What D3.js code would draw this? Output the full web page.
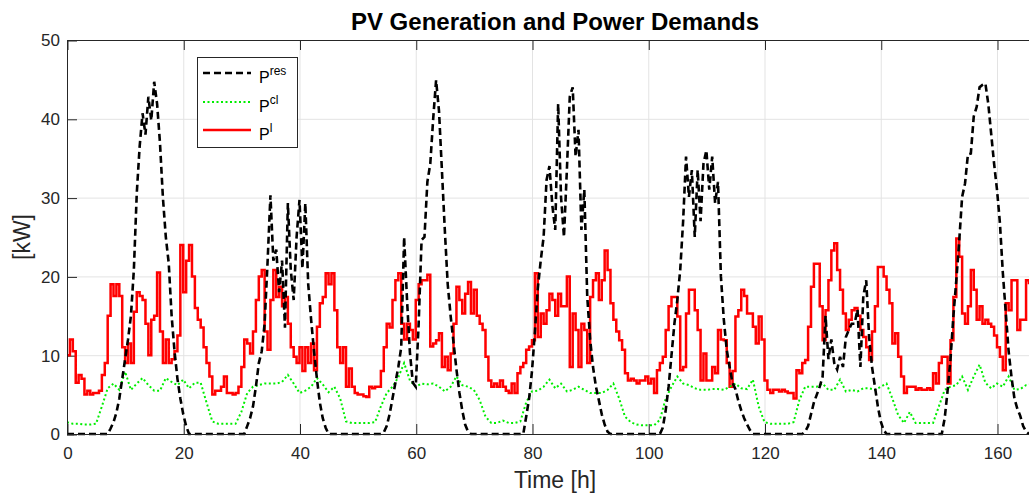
<!DOCTYPE html>
<html>
<head>
<meta charset="utf-8">
<script src="https://cdn.jsdelivr.net/npm/d3@7"></script>
<style>
body { margin: 0; background: #fff; }
svg { font-family: "Liberation Sans", Arial, Helvetica, sans-serif; }
.axis text { font-size: 17px; fill: #262626; }
.axis path { display: none; }
.axis line { stroke: #262626; }
.grid line { stroke: #e3e3e3; stroke-width: 1; }
</style>
</head>
<body>
<svg id="chart" width="1029" height="495"></svg>
<script>
// half-hour samples, starting at t = 0 h
const pLoad = [
    10, 12, 10.5, 6.5, 7.5, 7, 5, 5.5, 5, 5.2, 5.2, 5.5, 7.5, 9, 15, 19, 17.5, 19, 17.5, 11,
    9, 11.5, 9, 15.5, 18, 17.5, 17, 14, 10, 14.5, 15, 20.5, 13, 9, 12, 9, 9.5, 10.5, 12.5, 24,
    18, 22, 24, 20, 16, 14.5, 13.5, 11, 9, 7.3, 5, 5.5, 5.5, 6, 7.3, 5.2, 5.2, 5, 5.2, 6,
    8.5, 12, 11.5, 10.2, 13, 17, 20, 20.8, 13, 10.7, 17, 20.8, 17.4, 18.7, 16.2, 17.4, 14, 11, 9.8, 9,
    11, 8, 11, 9, 11.5, 8.1, 13.6, 16.6, 17.4, 20.4, 19, 20.4, 15.7, 11, 9, 11, 6, 8.3, 6, 5.2,
    5, 5, 4.8, 4.7, 6, 5.8, 6, 6, 8, 11, 14, 13.5, 17, 19.5, 20.4, 14, 12, 14, 13.2, 12,
    17, 19, 19.5, 19.5, 20.2, 11.1, 11.5, 11.9, 12.8, 8.5, 9.8, 8.1, 10.2, 14, 18.7, 17, 15.3, 17.8, 19.3, 15.3,
    18.3, 15, 14, 13.2, 9.8, 6.8, 6, 6.4, 6, 6.8, 6, 5.5, 5.2, 6.4, 5.2, 7.7, 8.5, 9, 10.7, 11.1,
    11.9, 20.4, 12.3, 15.3, 14, 15.7, 17.8, 17, 15, 17.8, 16.2, 16.2, 20, 8.5, 15.3, 13.2, 8.5, 14, 13.2, 9,
    17.4, 19.5, 20.4, 17, 19.5, 23.3, 20.8, 16.6, 14.5, 13, 11.9, 10.7, 7.7, 6.8, 7, 6.8, 6.4, 6.8, 6.8, 7.3,
    6.4, 7, 5.2, 8.1, 9, 9.8, 13.2, 16.2, 17.4, 17.4, 14.9, 8.1, 8.5, 15.3, 18.3, 18.3, 15.7, 13.2, 6.8, 10.2,
    6.8, 6.8, 8.5, 7.7, 13.2, 12, 11.9, 9, 6, 8, 14.9, 15.7, 18.3, 17.5, 15.3, 15.3, 13.6, 11.5, 14.9, 12,
    6.8, 5.6, 5.2, 5.6, 5.6, 5.4, 5.6, 5.4, 5.2, 5.2, 4.5, 8.1, 7.7, 9, 9.4, 13.6, 18.7, 21.6, 21.6, 16.2,
    11.9, 15.7, 19.5, 23.3, 24.2, 20.8, 18.3, 15.3, 13.2, 14.5, 15.7, 16, 15, 13.2, 12.3, 11, 9.4, 13, 16.2, 21.2,
    21.2, 20, 18.3, 16.6, 11.5, 12.8, 9.8, 7.3, 5.2, 6, 6, 6, 5.6, 5.8, 5.6, 5.6, 5.8, 5.6, 7.7, 6.4,
    9, 9.8, 9.8, 6.4, 11.9, 17.4, 24.8, 22.5, 15.3, 14, 16.2, 20.8, 18.3, 14.5, 16.2, 14, 14.5, 14, 13.6, 12.5,
    11, 9.8, 8.1, 16.6, 15.7, 19.5, 19.5, 13.2, 14.5, 14.5, 19.5, 19
];

// half-hour samples, starting at t = 0 h
const pRes = [
    0, 0, 0, 0, 0, 0, 0, 0, 0, 0, 0, 0, 0, 0, 0, 0.7, 1.5, 2.7, 4.5, 7,
    9.5, 12, 15, 20.8, 30.5, 36.5, 40.7, 38, 42.8, 39.8, 44.7, 41.9, 36.9, 30, 25, 21.7, 15, 10.5, 7, 4.5,
    2.5, 1, 0, 0, 0, 0, 0, 0, 0, 0, 0, 0, 0, 0, 0, 0, 0, 0, 0, 0,
    0, 0, 1, 2, 3.5, 6, 9, 10.5, 14, 21.7, 30.3, 22, 23.4, 18, 22, 13.5, 29.3, 20.8, 17, 25,
    29.7, 21, 29.3, 19, 14.5, 10.5, 7, 4, 2, 0.8, 0, 0, 0, 0, 0, 0, 0, 0, 0, 0,
    0, 0, 0, 0, 0, 0, 0, 0, 0, 0.2, 1, 2.5, 4.5, 6.5, 8.5, 11, 25, 17, 10.3, 6.5,
    6, 14, 24.6, 25, 32, 34.3, 40, 44.9, 41, 33.5, 25.9, 19, 15, 11.6, 8.2, 5.3, 3, 1.2, 0.3, 0,
    0, 0, 0, 0, 0, 0, 0, 0, 0, 0, 0, 0, 0, 0, 0, 0, 0, 0, 2.2, 4.5,
    8, 13, 18.5, 22, 25, 32.2, 34, 29, 25.9, 41.9, 30, 25, 33.5, 42.8, 44, 35.2, 38.6, 25.9, 31, 17.5,
    12, 8.5, 6, 4.3, 2.5, 1.2, 0.3, 0, 0, 0, 0, 0, 0, 0, 0, 0, 0, 0, 0, 0,
    0, 0, 0, 0, 0, 0.8, 3, 6, 10, 14, 17, 20.8, 27, 35.2, 30.1, 33.5, 25, 33.5, 27, 34.3,
    36, 31, 35.2, 29.3, 32, 20, 14.5, 10.7, 8.5, 6.5, 5.7, 4.2, 3, 2, 1.2, 0.5, 0, 0, 0, 0,
    0, 0, 0, 0, 0, 0, 0, 0, 0, 0, 0, 0, 0, 0, 0.3, 1, 2.5, 4, 5, 6,
    7.3, 15, 9.5, 12, 9, 8.2, 9.8, 8.5, 12.3, 13.2, 14, 14, 15.8, 8.5, 17.5, 19.5, 12.3, 8.5, 6, 3.5,
    1.6, 0.5, 0, 0, 0, 0, 0, 0, 0, 0, 0, 0, 0, 0, 0, 0, 0, 0, 0, 0,
    0, 0, 2, 5.5, 9.5, 15, 19.5, 24.5, 30.1, 31.8, 35.5, 35.6, 40.3, 41.5, 44, 44.3, 44.5, 41.9, 38.1, 34.3,
    31, 26.8, 20.5, 15.5, 10.5, 7.2, 4.5, 3.2, 2.3, 1, 0.3, 0
];

// hourly samples, starting at t = 0 h
const pCl = [
    1.5, 1.3, 1.3, 1.2, 1.2, 1.3, 3.5, 5.8, 6.4, 5.6,
    7.9, 5.6, 6.4, 7.1, 6.2, 5.5, 5.5, 7.1, 6.6, 6.2,
    6.9, 5.8, 6.5, 6.5, 4, 1.6, 1.3, 1.3, 1.3, 1.3,
    2.8, 5.2, 6, 6.2, 6.4, 6.4, 6.4, 6.6, 7.5, 6.4,
    5.2, 5.5, 6, 7.1, 6.3, 5.3, 6, 4.5, 1.6, 1.4,
    1.4, 1.4, 1.4, 1.5, 3.5, 5.2, 6, 7.2, 9, 6.8,
    6, 6.4, 6.3, 6.4, 6, 5.4, 6, 7.3, 6.2, 6,
    5.6, 4.3, 2.2, 1.4, 1.4, 1.7, 1.4, 1.4, 1.6, 4,
    5.4, 5.5, 6, 6.9, 5.8, 6.4, 5.4, 5.6, 6, 5.6,
    5.2, 5.2, 5.2, 5.6, 6.4, 4.5, 2.2, 1.5, 1.2, 1.1,
    1.1, 1.1, 1.8, 4.5, 6, 7.3, 6.4, 6.2, 5.8, 5.6,
    5.6, 5.7, 5.7, 5.6, 6, 6.4, 5.8, 5.7, 6.9, 3.5,
    1.5, 1.3, 1.3, 1.3, 1.3, 1.5, 4.3, 6, 6, 6,
    6.4, 5.6, 5.6, 6.9, 5.4, 5.6, 5.4, 5.8, 5.8, 5.6,
    6, 6.4, 4.5, 2.4, 1.4, 2.8, 1.4, 1.4, 1.4, 1.4,
    3.5, 5.6, 6, 6.2, 7.3, 5.6, 7.3, 8.8, 6.5, 5.8,
    6.4, 6, 7.3, 5.6, 5.7, 6.2, 6.3
];

const xTicks = [0, 20, 40, 60, 80, 100, 120, 140, 160];
const yTicks = [0, 10, 20, 30, 40, 50];

let svg = d3.select("#chart");
svg.append("rect").attr("width", 1029).attr("height", 495).attr("fill", "#fff");

let xScale = d3.scaleLinear().domain([0, 168]).range([67, 1043.5]);
let yScale = d3.scaleLinear().domain([0, 50]).range([434, 40]);

// grid
let grid = svg.append("g").attr("class", "grid");
grid.selectAll(".gx").data(xTicks).join("line").attr("class", "gx")
    .attr("x1", d => xScale(d) + 0.5).attr("x2", d => xScale(d) + 0.5)
    .attr("y1", 40).attr("y2", 434);
grid.selectAll(".gy").data(yTicks).join("line").attr("class", "gy")
    .attr("x1", 67).attr("x2", 1043.5)
    .attr("y1", d => yScale(d) + 0.5).attr("y2", d => yScale(d) + 0.5);

// axes (ticks point inwards like MATLAB)
svg.append("g").attr("class", "axis").attr("transform", "translate(0.5,434)")
    .call(d3.axisBottom(xScale).tickValues(xTicks).tickSizeInner(-10).tickSizeOuter(0).tickPadding(13));
svg.append("g").attr("class", "axis").attr("transform", "translate(0.5,40)")
    .call(d3.axisTop(xScale).tickValues(xTicks).tickSizeInner(-10).tickSizeOuter(0).tickFormat(""));
svg.append("g").attr("class", "axis").attr("transform", "translate(67,0.5)")
    .call(d3.axisLeft(yScale).tickValues(yTicks).tickSizeInner(-10).tickSizeOuter(0).tickPadding(7));

// data lines
svg.append("clipPath").attr("id", "clip").append("rect")
    .attr("x", 67).attr("y", 30).attr("width", 962).attr("height", 410);
let plot = svg.append("g").attr("clip-path", "url(#clip)");

let halfHourLine = d3.line().x((d, i) => xScale(i * 0.5)).y(d => yScale(d));
let hourLine = d3.line().x((d, i) => xScale(i)).y(d => yScale(d));

plot.append("path").attr("d", halfHourLine.curve(d3.curveStepAfter)(pLoad))
    .attr("fill", "none").attr("stroke", "#ff0000").attr("stroke-width", 2.5);
plot.append("path").attr("d", hourLine(pCl))
    .attr("fill", "none").attr("stroke", "#00ee00").attr("stroke-width", 2)
    .attr("stroke-dasharray", "2,2.5");
plot.append("path").attr("d", d3.line().x((d, i) => xScale(i * 0.5)).y(d => yScale(d))(pRes))
    .attr("fill", "none").attr("stroke", "#000").attr("stroke-width", 2.6)
    .attr("stroke-dasharray", "7,4");

// axes box
svg.append("line").attr("x1", 67).attr("x2", 1043.5).attr("y1", 40.5).attr("y2", 40.5).attr("stroke", "#262626");
svg.append("line").attr("x1", 67).attr("x2", 1043.5).attr("y1", 434.5).attr("y2", 434.5).attr("stroke", "#262626");
svg.append("line").attr("x1", 67.5).attr("x2", 67.5).attr("y1", 40).attr("y2", 434.5).attr("stroke", "#262626");

// titles
svg.append("text").attr("x", 555).attr("y", 30).attr("text-anchor", "middle")
    .attr("font-size", "24px").attr("font-weight", "bold").attr("fill", "#000")
    .text("PV Generation and Power Demands");
svg.append("text").attr("x", 555).attr("y", 488).attr("text-anchor", "middle")
    .attr("font-size", "23px").attr("fill", "#262626").text("Time [h]");
svg.append("text").attr("transform", "translate(30,237) rotate(-90)").attr("text-anchor", "middle")
    .attr("font-size", "23px").attr("fill", "#262626").text("[kW]");

// legend
let legend = svg.append("g");
legend.append("rect").attr("x", 197.5).attr("y", 57.5).attr("width", 100).attr("height", 90)
    .attr("fill", "#fff").attr("stroke", "#262626").attr("stroke-width", 1);
let items = [
    {name: "res", y: 73, color: "#000", dash: "7,4", w: 2.6},
    {name: "cl", y: 102, color: "#00ee00", dash: "2,2.5", w: 2},
    {name: "l", y: 130, color: "#ff0000", dash: null, w: 2.5}
];
items.forEach(it => {
    legend.append("line").attr("x1", 203).attr("x2", 251).attr("y1", it.y).attr("y2", it.y)
        .attr("stroke", it.color).attr("stroke-width", it.w).attr("stroke-dasharray", it.dash);
    let t = legend.append("text").attr("x", 259).attr("y", it.y + 10).attr("font-size", "16px").attr("fill", "#000");
    t.append("tspan").text("P");
    t.append("tspan").attr("dy", -8).attr("font-size", "12px").text(it.name);
});
</script>
</body>
</html>
